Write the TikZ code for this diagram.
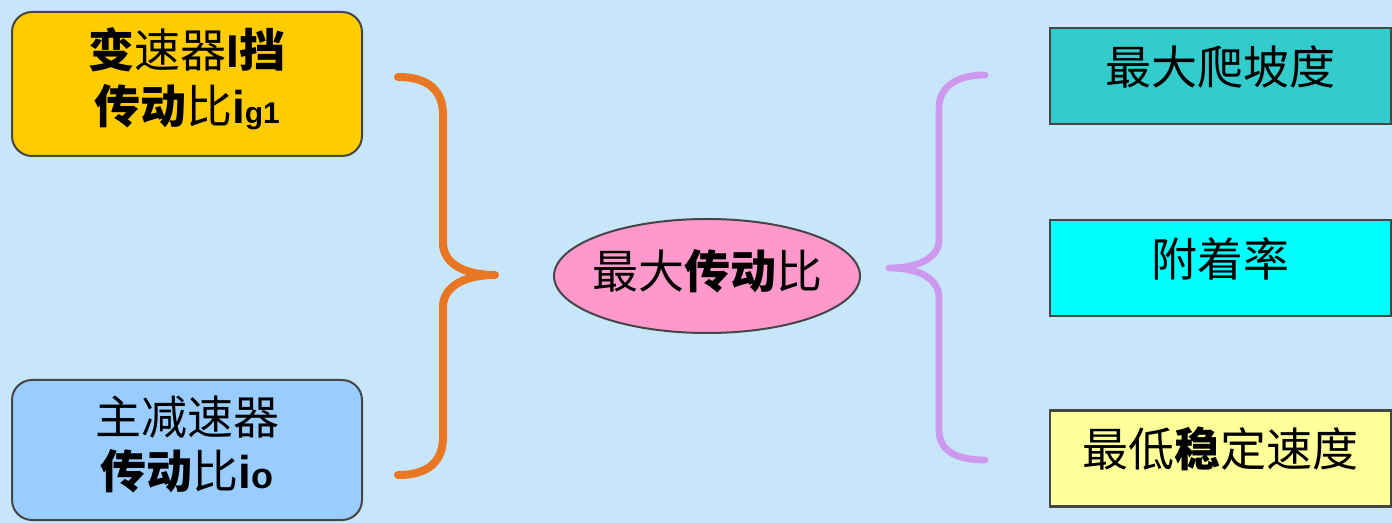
\documentclass[tikz,border=0pt]{standalone}
\usepackage{fontspec}
\newfontfamily\cjk{Noto Sans CJK SC}
\newfontfamily\lat{Liberation Sans}
\usetikzlibrary{shapes.geometric}
\definecolor{bgblue}{RGB}{200,230,250}
\definecolor{gearyellow}{RGB}{255,204,0}
\definecolor{mainblue}{RGB}{153,204,255}
\definecolor{ellpink}{RGB}{255,153,204}
\definecolor{teal1}{RGB}{51,204,204}
\definecolor{cyan1}{RGB}{0,255,255}
\definecolor{lightyel}{RGB}{255,255,153}
\definecolor{braceorange}{RGB}{232,118,34}
\definecolor{bracepurple}{RGB}{204,153,238}
\definecolor{edgegray}{RGB}{70,70,70}
\newcommand{\lowstrut}{\rule[-8pt]{0pt}{8pt}}
\tikzset{
  txt/.style={font=\cjk\fontsize{23}{27}\selectfont, text=black, align=center, inner sep=0pt},
  leftbox/.style={txt, draw=edgegray, line width=1pt, rounded corners=10pt,
    minimum width=175pt, minimum height=72pt},
  rightbox/.style={txt, draw=edgegray, line width=1.3pt,
    minimum width=170.5pt, minimum height=48pt, text height=12.4pt, text depth=4pt},
  centre/.style={txt, ellipse, draw=edgegray, line width=1pt, fill=ellpink,
    minimum width=153pt, minimum height=57pt, text height=16.4pt, text depth=4pt},
  bracestyle/.style={line width=4pt, line cap=round, line join=round}
}
\begin{document}
\begin{tikzpicture}[x=0.5pt,y=-0.5pt]
\fill[bgblue] (0,0) rectangle (1392,523);
\useasboundingbox (0,0) rectangle (1392,523);

% left boxes
\node[leftbox, fill=gearyellow] (gear) at (187,84)
  {{\bfseries 变}速器{\lat\bfseries I}{\bfseries 挡}\\[1pt]{\bfseries 传动}比{\lat\bfseries i{\fontsize{15}{15}\selectfont g1}}\lowstrut};
\node[leftbox, fill=mainblue, minimum height=70pt] (final) at (187,450)
  {主减速器\\{\bfseries 传动}比{\lat\bfseries i{\fontsize{18}{18}\selectfont o}}\lowstrut};

% centre ellipse
\node[centre] (ratio) at (707,276) {\makebox[108pt]{最大{\bfseries 传动}比}};

% right boxes
\node[rightbox, fill=teal1] (climb) at (1220.5,76) {最大爬坡度};
\node[rightbox, fill=cyan1] (adh) at (1220.5,268) {附着率};
\node[rightbox, fill=lightyel] (slow) at (1220.5,458.5) {最低{\bfseries 稳}定速度};

% orange brace
\coordinate (ob1) at (398,77);
\coordinate (obtip) at (495,275);
\coordinate (ob2) at (398,475);
\draw[bracestyle, braceorange] (ob1) .. controls (430,77) and (443,92) .. (443,115)
  -- (443,243) .. controls (443,262) and (462,275) .. (obtip)
  .. controls (462,275) and (443,288) .. (443,307)
  -- (443,437) .. controls (443,460) and (430,475) .. (ob2);

% purple brace
\coordinate (pb1) at (985,75);
\coordinate (pbtip) at (889,268);
\coordinate (pb2) at (985,460);
\draw[bracestyle, bracepurple, line width=3.4pt] (pb1) .. controls (955,75) and (939,88) .. (939,108)
  -- (939,240) .. controls (939,258) and (918,268) .. (pbtip)
  .. controls (918,268) and (939,278) .. (939,298)
  -- (939,430) .. controls (939,450) and (955,460) .. (pb2);
\end{tikzpicture}
\end{document}
